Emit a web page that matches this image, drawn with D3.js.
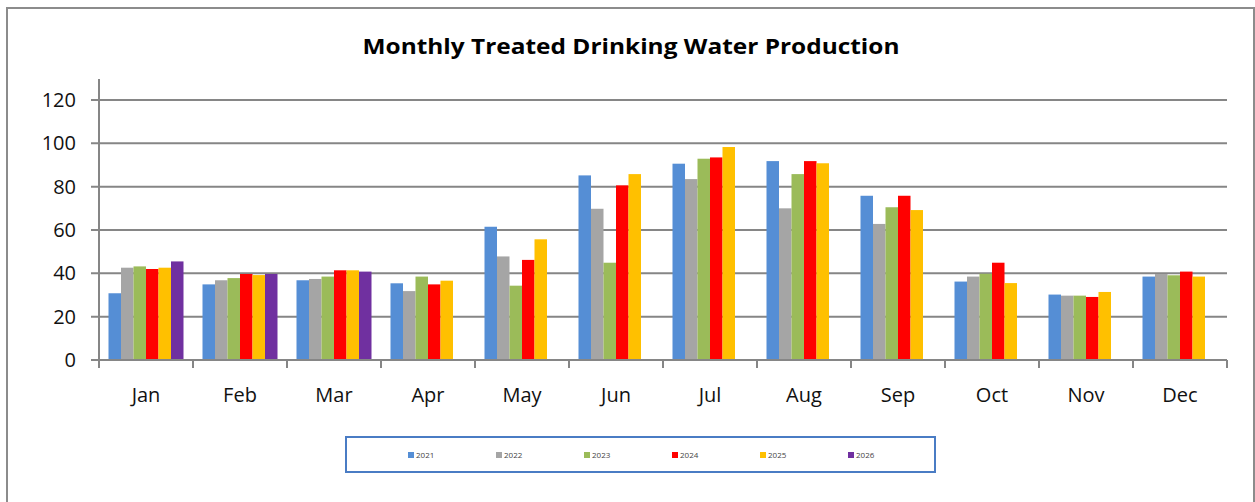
<!DOCTYPE html>
<html>
<head>
<meta charset="utf-8">
<script src="https://cdn.jsdelivr.net/npm/d3@7"></script>
<style>
  body { margin: 0; background: #fff; }
  svg { display: block; font-family: "Open Sans", "Liberation Sans", sans-serif; }
</style>
</head>
<body>
<svg id="chart" width="1255" height="502"></svg>
<script>
// chart data
var months = ["Jan", "Feb", "Mar", "Apr", "May", "Jun", "Jul", "Aug", "Sep", "Oct", "Nov", "Dec"];
var years = ["2021", "2022", "2023", "2024", "2025", "2026"];
var v2021 = [30.8, 34.9, 36.8, 35.4, 61.5, 85.2, 90.6, 91.8, 75.8, 36.2, 30.2, 38.5];
var v2022 = [42.6, 36.8, 37.4, 31.8, 47.8, 69.8, 83.5, 70.0, 62.8, 38.5, 29.7, 39.7];
var v2023 = [43.2, 37.8, 38.5, 38.5, 34.3, 44.9, 92.9, 85.8, 70.5, 39.8, 29.7, 39.1];
var v2024 = [42.0, 39.7, 41.4, 34.9, 46.2, 80.6, 93.5, 91.8, 75.8, 44.9, 29.1, 40.8];
var v2025 = [42.6, 39.2, 41.4, 36.6, 55.7, 85.8, 98.3, 90.8, 69.2, 35.5, 31.4, 38.5];
var v2026 = [45.5, 39.7, 40.8, null, null, null, null, null, null, null, null, null];
var yTicks = [0, 20, 40, 60, 80, 100, 120];
var colors = ["#558ed5", "#a5a5a5", "#9bbb59", "#ff0000", "#ffc000", "#7030a0"];

var series = [v2021, v2022, v2023, v2024, v2025, v2026];

(function() {
    var svg = d3.select("#chart");

    // outer frame (bottom edge runs off the picture)
    svg.append("path")
        .attr("d", "M7,510 L7,8 L1254,8 L1254,510")
        .attr("fill", "none")
        .attr("stroke", "#8c8c8c")
        .attr("stroke-width", 2);

    var plotLeft = 99, plotRight = 1227, plotTop = 100, plotBottom = 360;

    var x = d3.scaleBand().domain(months).range([plotLeft, plotRight]);
    var xs = d3.scaleBand().domain(years).range([9.5, x.bandwidth() - 9.5]);
    var y = d3.scaleLinear().domain([0, 120]).range([plotBottom, plotTop]);

    // gridlines
    svg.append("g").selectAll("line")
        .data(yTicks)
        .enter().append("line")
        .attr("x1", plotLeft - 8).attr("x2", plotRight)
        .attr("y1", function(d) { return y(d); })
        .attr("y2", function(d) { return y(d); })
        .attr("stroke", "#868686")
        .attr("stroke-width", 2);

    // y axis line
    svg.append("line")
        .attr("x1", plotLeft).attr("x2", plotLeft)
        .attr("y1", 79).attr("y2", plotBottom + 8)
        .attr("stroke", "#868686")
        .attr("stroke-width", 2);

    // y tick labels
    svg.append("g").selectAll("text")
        .data(yTicks)
        .enter().append("text")
        .attr("x", 76)
        .attr("y", function(d) { return y(d); })
        .attr("dy", "0.35em")
        .attr("text-anchor", "end")
        .attr("font-size", 20)
        .attr("fill", "#111")
        .text(function(d) { return d; });

    // bars
    series.forEach(function(vals, si) {
        svg.append("g").selectAll("rect")
            .data(vals.map(function(v, i) { return {m: months[i], v: v}; })
                .filter(function(d) { return d.v != null; }))
            .enter().append("rect")
            .attr("x", function(d) { return x(d.m) + xs(years[si]); })
            .attr("width", xs.bandwidth())
            .attr("y", function(d) { return y(d.v); })
            .attr("height", function(d) { return plotBottom - y(d.v); })
            .attr("fill", colors[si]);
    });

    // x axis line and ticks
    svg.append("line")
        .attr("x1", plotLeft).attr("x2", plotRight)
        .attr("y1", plotBottom).attr("y2", plotBottom)
        .attr("stroke", "#868686")
        .attr("stroke-width", 2);

    svg.append("g").selectAll("line")
        .data(months.concat(["end"]))
        .enter().append("line")
        .attr("x1", function(d, i) { return plotLeft + i * x.step(); })
        .attr("x2", function(d, i) { return plotLeft + i * x.step(); })
        .attr("y1", plotBottom).attr("y2", plotBottom + 8)
        .attr("stroke", "#868686")
        .attr("stroke-width", 2);

    svg.append("g").selectAll("text")
        .data(months)
        .enter().append("text")
        .attr("x", function(d) { return x(d) + x.bandwidth() / 2; })
        .attr("y", 402)
        .attr("text-anchor", "middle")
        .attr("font-size", 20)
        .attr("fill", "#111")
        .text(function(d) { return d; });

    // title
    svg.append("text")
        .attr("x", 631)
        .attr("y", 54)
        .attr("text-anchor", "middle")
        .attr("font-size", 21)
        .attr("font-weight", "bold")
        .attr("textLength", 537)
        .attr("lengthAdjust", "spacingAndGlyphs")
        .attr("fill", "#000")
        .text("Monthly Treated Drinking Water Production");

    // legend
    svg.append("rect")
        .attr("x", 346).attr("y", 437)
        .attr("width", 589).attr("height", 35)
        .attr("fill", "#fff")
        .attr("stroke", "#4a7cc4")
        .attr("stroke-width", 2);

    var lx = d3.scalePoint().domain(years).range([408, 848]);

    var item = svg.append("g").selectAll("g")
        .data(years)
        .enter().append("g")
        .attr("transform", function(d) { return "translate(" + lx(d) + ",455)"; });

    item.append("rect")
        .attr("x", 0).attr("y", -3)
        .attr("width", 6).attr("height", 6)
        .attr("fill", function(d, i) { return colors[i]; });

    item.append("text")
        .attr("x", 8)
        .attr("dy", "0.35em")
        .attr("font-size", 8)
        .attr("fill", "#444")
        .text(function(d) { return d; });
})();
</script>
</body>
</html>
